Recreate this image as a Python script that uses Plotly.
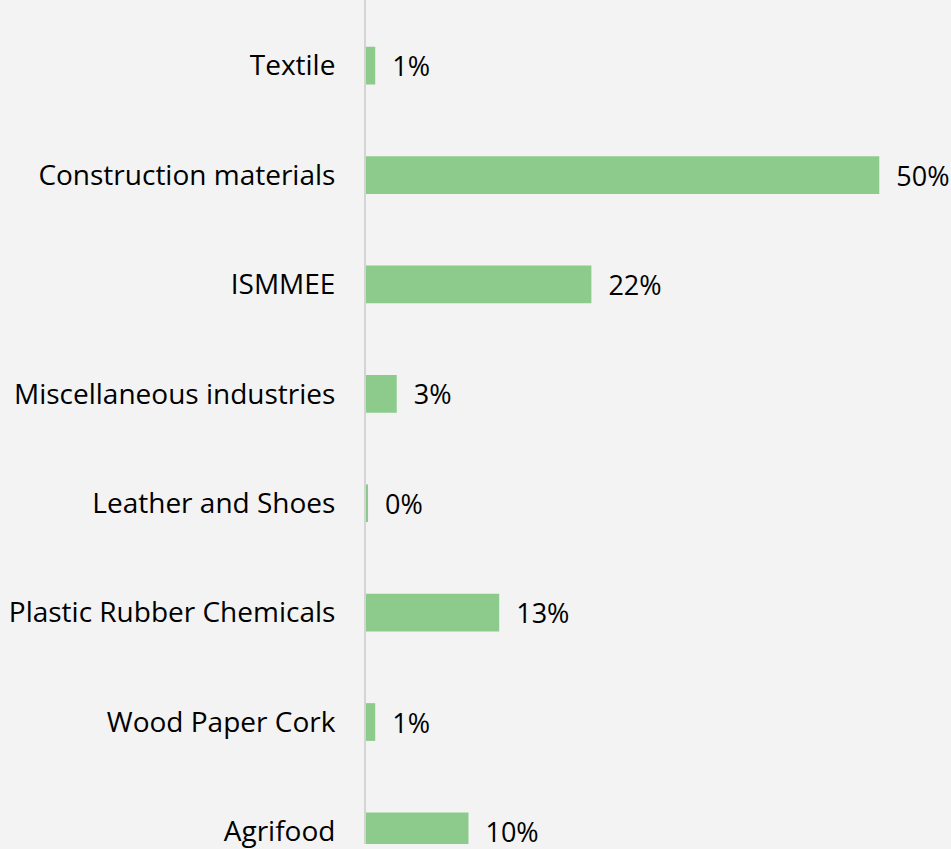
import plotly.graph_objects as go

# sectors, bottom to top as drawn
sectors = [
    "Agrifood",
    "Wood Paper Cork",
    "Plastic Rubber Chemicals",
    "Leather and Shoes",
    "Miscellaneous industries",
    "ISMMEE",
    "Construction materials",
    "Textile",
]
shares = [10.0, 0.9, 13.0, 0.2, 3.0, 22.0, 50.1, 0.9]
share_labels = ["10%", "1%", "13%", "0%", "3%", "22%", "50%", "1%"]

BG = "#f3f3f3"

fig = go.Figure(
    go.Bar(
        y=sectors,
        x=shares,
        orientation="h",
        marker=dict(color="#8dcb8d", line=dict(width=0)),
        width=0.345,
        text=["  " + s for s in share_labels],
        textposition="outside",
        textfont=dict(family="Open Sans", size=27, color="#000000"),
        cliponaxis=False,
        hoverinfo="skip",
    )
)

fig.update_layout(
    width=951,
    height=849,
    margin=dict(l=366, r=0, t=0, b=0),
    paper_bgcolor=BG,
    plot_bgcolor=BG,
    showlegend=False,
    font=dict(family="Open Sans", size=27, color="#000000"),
)

fig.update_xaxes(
    range=[0, 57.1],
    visible=False,
)

fig.update_yaxes(
    categoryorder="array",
    categoryarray=sectors,
    range=[-0.115, 7.60],
    showline=True,
    linecolor="#d4d4d4",
    linewidth=2,
    showgrid=False,
    ticks="",
    ticklabelstandoff=23,
    tickfont=dict(family="Open Sans", size=28, color="#000000"),
)

# drop the browser's default page margin so the figure sits at 0,0
fig.write_html(
    "out.html",
    config={"displayModeBar": False},
    post_script="document.body.style.margin='0';document.body.style.background='" + BG + "';",
)
